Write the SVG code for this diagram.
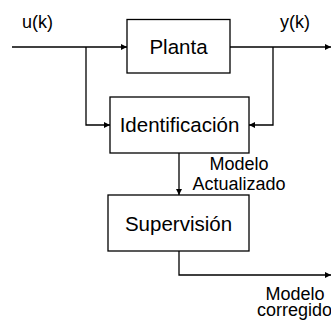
<svg xmlns="http://www.w3.org/2000/svg" width="331" height="322" viewBox="0 0 331 322">
<style>
.box{fill:#fff;stroke:#000;stroke-width:1.3}
.ln{fill:none;stroke:#000;stroke-width:1.3}
.bt{font-family:"Liberation Sans",Arial,sans-serif;font-size:20.5px;fill:#000;text-anchor:middle}
.lb{font-family:"Liberation Sans",Arial,sans-serif;font-size:18px;fill:#000}
</style>
<defs>
<marker id="ah" viewBox="0 0 6 6" refX="6" refY="3" markerWidth="6" markerHeight="6" markerUnits="userSpaceOnUse" orient="auto">
<path d="M0,0 L6,3 L0,6 z" fill="#000"/>
</marker>
</defs>
<g id="connectors">
<path class="ln" d="M12,47 H127" marker-end="url(#ah)"/>
<path class="ln" d="M230,47 H331" marker-end="url(#ah)"/>
<path class="ln" d="M86,47 V125 H110" marker-end="url(#ah)"/>
<path class="ln" d="M273,47 V125 H249" marker-end="url(#ah)"/>
<path class="ln" d="M179,153 V195" marker-end="url(#ah)"/>
<path class="ln" d="M179,251 V275 H331" marker-end="url(#ah)"/>
</g>
<g id="planta">
<rect class="box" x="127" y="19.5" width="103" height="53.5"/>
<text class="bt" x="178.5" y="54">Planta</text>
</g>
<g id="identificacion">
<rect class="box" x="110" y="97" width="139" height="56"/>
<text class="bt" x="179.5" y="132">Identificación</text>
</g>
<g id="supervision">
<rect class="box" x="108" y="195" width="141" height="56"/>
<text class="bt" x="178.5" y="231">Supervisión</text>
</g>
<g id="labels">
<text class="lb" x="22" y="28">u(k)</text>
<text class="lb" x="280" y="28">y(k)</text>
<text class="lb" x="239" y="170" text-anchor="middle">Modelo</text>
<text class="lb" x="239" y="190" text-anchor="middle">Actualizado</text>
<text class="lb" x="295" y="300" text-anchor="middle">Modelo</text>
<text class="lb" x="257" y="316">corregido</text>
</g>
</svg>
